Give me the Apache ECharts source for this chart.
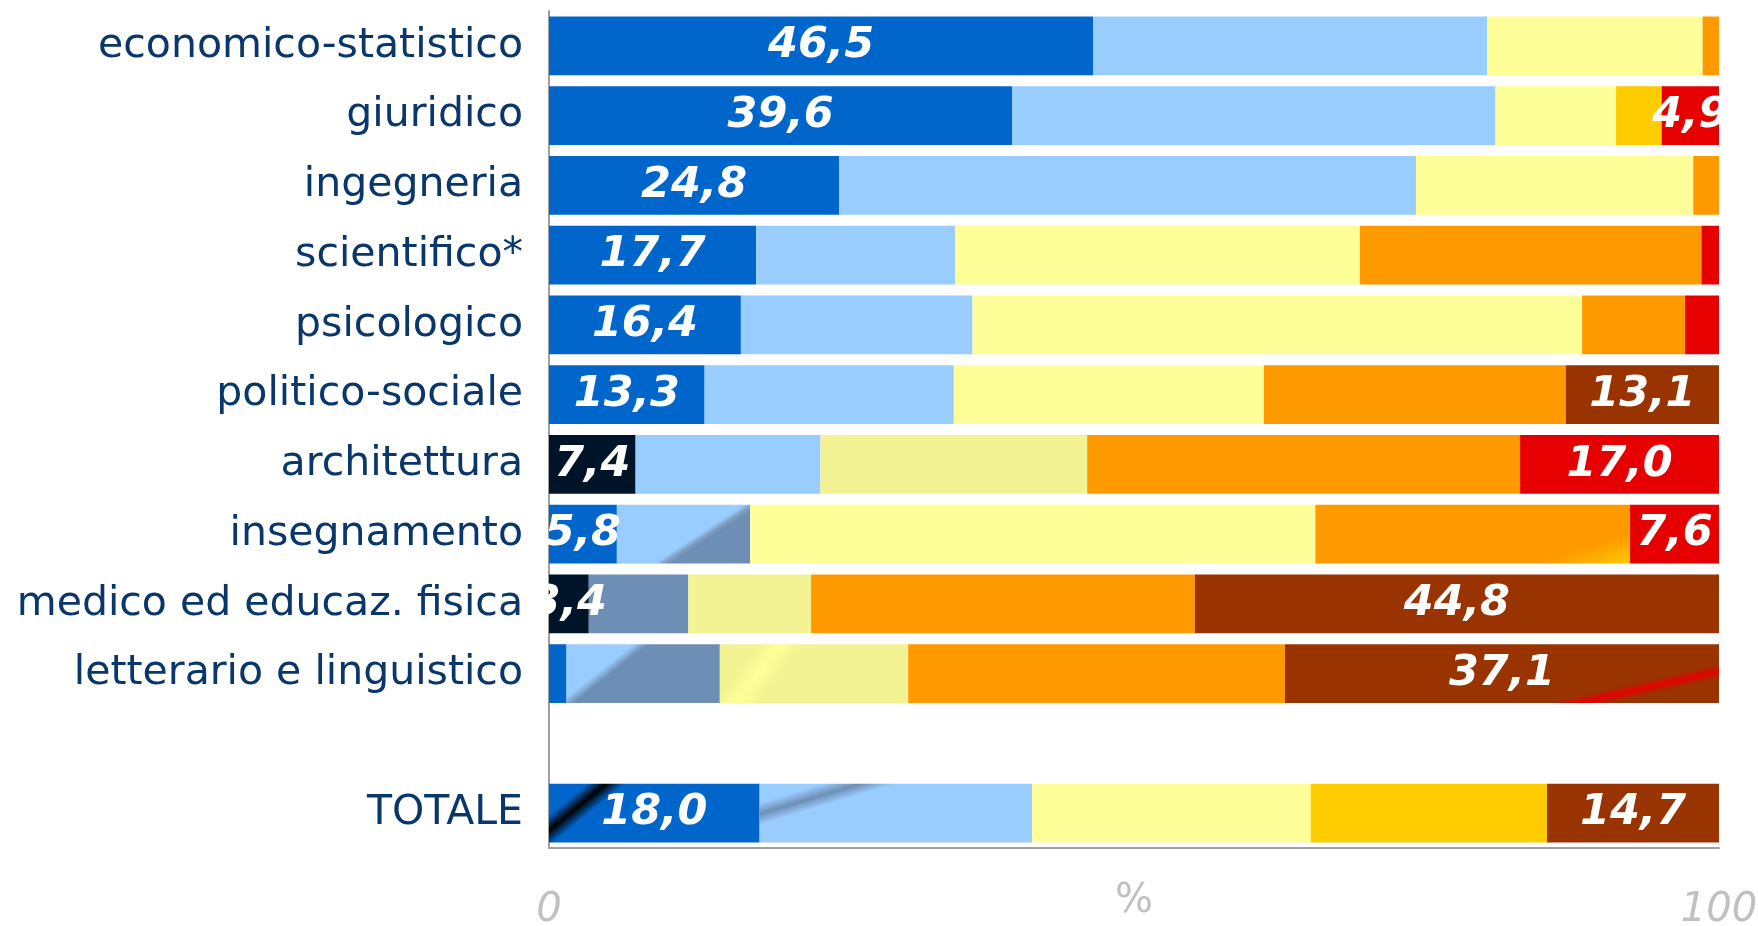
<!DOCTYPE html>
<html>
<head>
<meta charset="utf-8">
<script src="https://cdn.jsdelivr.net/npm/echarts@6/dist/echarts.min.js"></script>
<style>
html,body{margin:0;padding:0;background:#ffffff;}
#chart{width:1758px;height:926px;}
</style>
</head>
<body>
<div id="chart"></div>
<script>
// ---- data ----
const categories = [
  'economico-statistico', 'giuridico', 'ingegneria', 'scientifico*', 'psicologico',
  'politico-sociale', 'architettura', 'insegnamento', 'medico ed educaz. fisica',
  'letterario e linguistico', '', 'TOTALE'
];
const seriesNames = ['classe 1', 'classe 2', 'classe 3', 'classe 4', 'classe 5'];
const class1 = [46.5, 39.6, 24.8, 17.7, 16.4, 13.3, 7.4, 5.8, 3.4, 1.5, null, 18.0];
const class2 = [33.7, 41.3, 49.3, 17.0, 19.8, 21.3, 15.8, 11.4, 8.5, 13.1, null, 23.3];
const class3 = [18.4, 10.3, 23.7, 34.6, 52.1, 26.5, 22.8, 48.3, 10.5, 16.1, null, 23.8];
const class4 = [1.4, 3.9, 2.2, 29.2, 8.8, 25.8, 37.0, 26.9, 32.8, 32.2, null, 20.2];
const class5 = [0, 4.9, 0, 1.5, 2.9, 13.1, 17.0, 7.6, 44.8, 37.1, null, 14.7];
const xTicks = [0, 100];
const xAxisName = '%';

// ---- styles ----
const baseColors = ['#0066CC', '#99CCFF', '#FFFF99', '#FF9900', '#E60000'];
const grayBlue = '#6E8FB5';
const paleYellow = '#F3F393';
const brown = '#993300';
const gold = '#FFCC00';
const navy = '#001429';
function lg(x2, y2, stops) {
  return { type: 'linear', x: 0, y: 0, x2: x2, y2: y2,
    colorStops: stops.map(s => ({ offset: s[0], color: s[1] })) };
}
const cellColors = {
  'giuridico|3': gold,
  'politico-sociale|4': brown,
  'architettura|0': navy,
  'architettura|2': paleYellow,
  'insegnamento|1': lg(0.414, 1.44, [[0, '#99CCFF'], [0.69, '#99CCFF'], [0.74, '#7F9DC0'], [0.78, grayBlue], [1, grayBlue]]),
  'insegnamento|3': lg(0.144, 2.467, [[0, '#FF9900'], [0.8, '#FF9900'], [1, gold]]),
  'medico ed educaz. fisica|0': navy,
  'medico ed educaz. fisica|1': grayBlue,
  'medico ed educaz. fisica|2': paleYellow,
  'medico ed educaz. fisica|4': brown,
  'letterario e linguistico|1': lg(0.407, 1.35, [[0, '#99CCFF'], [0.41, '#99CCFF'], [0.5, grayBlue], [1, grayBlue]]),
  'letterario e linguistico|2': lg(0.427, 1.03, [[0, paleYellow], [0.3, paleYellow], [0.48, '#FFFF99'], [0.66, paleYellow], [1, paleYellow]]),
  'letterario e linguistico|4': lg(0.103, 3.36, [[0, brown], [0.57, brown], [0.607, '#E60000'], [0.64, brown], [1, brown]]),
  'TOTALE|0': lg(0.303, 1.324, [[0, '#0066CC'], [0.24, '#0066CC'], [0.36, '#000000'], [0.48, '#0066CC'], [1, '#0066CC']]),
  'TOTALE|1': lg(0.107, 1.648, [[0, '#99CCFF'], [0.18, '#99CCFF'], [0.287, grayBlue], [0.39, '#99CCFF'], [1, '#99CCFF']]),
  'TOTALE|3': gold,
  'TOTALE|4': brown
};
const labelSeries = [0, 4];
const labelMin = 3;

const allValues = [class1, class2, class3, class4, class5];

const series = allValues.map((vals, si) => ({
  name: seriesNames[si],
  type: 'bar',
  stack: 'tot',
  barCategoryGap: '16%',
  itemStyle: { color: baseColors[si] },
  data: vals.map((v, ri) => {
    const key = categories[ri] + '|' + si;
    const item = { value: v };
    if (cellColors[key]) item.itemStyle = { color: cellColors[key] };
    return item;
  }),
  label: {
    show: labelSeries.indexOf(si) >= 0,
    position: 'inside',
    color: '#ffffff',
    fontFamily: 'DejaVu Sans',
    fontWeight: 'bold',
    fontStyle: 'italic',
    fontSize: 43,
    formatter: p => (p.value != null && p.value >= labelMin) ? p.value.toFixed(1).replace('.', ',') : ''
  },
  emphasis: { disabled: true }
}));

const chart = echarts.init(document.getElementById('chart'), null, { renderer: 'canvas' });
chart.setOption({
  animation: false,
  backgroundColor: '#ffffff',
  grid: { left: 549, right: 39, top: 11, bottom: 78, containLabel: false, outerBoundsMode: 'none' },
  xAxis: {
    type: 'value',
    min: xTicks[0],
    max: xTicks[xTicks.length - 1],
    interval: xTicks[1] - xTicks[0],
    name: xAxisName,
    nameLocation: 'middle',
    nameGap: 34,
    nameMoveOverlap: false,
    nameTextStyle: { color: '#C0C0C0', fontFamily: 'DejaVu Sans', fontSize: 40, verticalAlign: 'top', lineHeight: 40 },
    axisLine: { show: true, lineStyle: { color: '#A0A0A0', width: 2 } },
    axisTick: { show: false },
    splitLine: { show: false },
    axisLabel: {
      color: '#C0C0C0', fontFamily: 'DejaVu Sans', fontStyle: 'italic', fontSize: 40,
      margin: 43, lineHeight: 40
    }
  },
  yAxis: {
    type: 'category',
    data: categories,
    inverse: true,
    axisLine: { show: true, lineStyle: { color: '#A0A0A0', width: 2 } },
    axisTick: { show: false },
    splitLine: { show: false },
    axisLabel: {
      color: '#0A376B', fontFamily: 'DejaVu Sans', fontSize: 41, margin: 26
    }
  },
  series: series
});
</script>
</body>
</html>
